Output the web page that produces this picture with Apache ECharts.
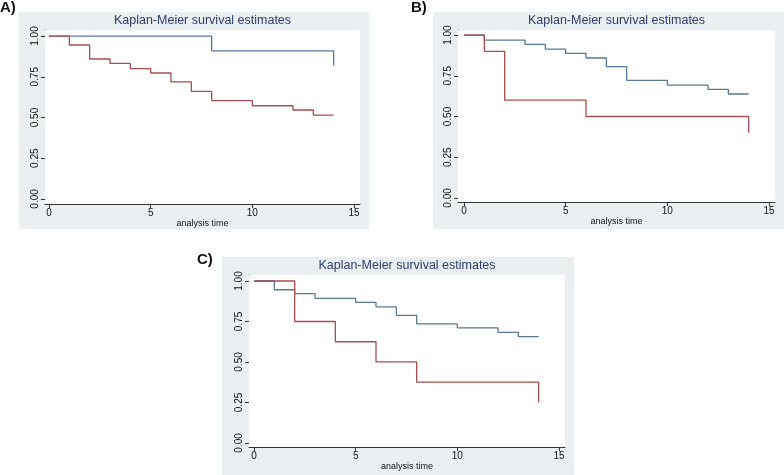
<!DOCTYPE html>
<html>
<head>
<meta charset="utf-8">
<title>Kaplan-Meier survival estimates</title>
<script src="https://cdn.jsdelivr.net/npm/echarts@6.0.0/dist/echarts.min.js"></script>
<style>
    html, body { margin: 0; padding: 0; background: #fff; }
    #chart { width: 784px; height: 475px; }
</style>
</head>
<body>
<div id="chart"></div>
<script>
    // panel A
    var timeA1 = [0, 8, 14];
    var survA1 = [1, 0.909, 0.818];
    var timeA2 = [0, 1, 2, 3, 4, 5, 6, 7, 8, 10, 12, 13, 14];
    var survA2 = [1, 0.945, 0.859, 0.832, 0.80, 0.773, 0.718, 0.66, 0.603, 0.572, 0.546, 0.515, 0.515];
    // panel B
    var timeB1 = [0, 1, 3, 4, 5, 6, 7, 8, 10, 12, 13, 14];
    var survB1 = [1, 0.969, 0.943, 0.914, 0.888, 0.859, 0.806, 0.722, 0.693, 0.667, 0.638, 0.638];
    var timeB2 = [0, 1, 2, 6, 14];
    var survB2 = [1, 0.9, 0.6, 0.5, 0.4];
    // panel C
    var timeC1 = [0, 1, 2, 3, 5, 6, 7, 8, 10, 12, 13, 14];
    var survC1 = [1, 0.946, 0.922, 0.893, 0.868, 0.84, 0.788, 0.735, 0.71, 0.683, 0.656, 0.656];
    var timeC2 = [0, 2, 4, 6, 8, 14];
    var survC2 = [1, 0.75, 0.625, 0.5, 0.375, 0.25];

    var xTicks = [0, 5, 10, 15];
    var yTicks = [0, 0.25, 0.5, 0.75, 1];
    var panelLabels = ['A)', 'B)', 'C)'];
    var titleText = 'Kaplan-Meier survival estimates';
    var xName = 'analysis time';

    var BLUE = '#5a7a98';
    var RED = '#a84e50';
    var BG = '#eaf0f2';
    var FONT = '"Liberation Sans", Arial, sans-serif';

    // layout of the three panels (pixels) and axis extents
    var panels = [
        { bg: [19, 12, 350, 217], left: 45, top: 30, right: 424, bottom: 271,
          xr: [-0.197, 15.295], yr: [-0.031, 1.037], label: [0, 8],
          lines: [[timeA1, survA1], [timeA2, survA2]] },
        { bg: [433, 12, 351, 217], left: 458, top: 30, right: 9, bottom: 273,
          xr: [-0.295, 15.295], yr: [-0.025, 1.031], label: [411, 8],
          lines: [[timeB1, survB1], [timeB2, survB2]] },
        { bg: [222, 257, 352, 218], left: 249, top: 275, right: 219, bottom: 28,
          xr: [-0.246, 15.295], yr: [-0.025, 1.037], label: [197, 260],
          lines: [[timeC1, survC1], [timeC2, survC2]] }
    ];

    function pairs(t, s) {
        return t.map(function (v, i) { return [v, s[i]]; });
    }

    var grids = [], xAxes = [], yAxes = [], series = [], titles = [], graphics = [];

    panels.forEach(function (p, i) {
        graphics.push({
            type: 'rect', z: -10,
            shape: { x: p.bg[0], y: p.bg[1], width: p.bg[2], height: p.bg[3] },
            style: { fill: BG }
        });
        graphics.push({
            type: 'text', x: p.label[0], y: p.label[1],
            style: { text: panelLabels[i], font: 'bold 15px ' + FONT, fill: '#111', verticalAlign: 'middle' }
        });

        var plotW = 784 - p.left - p.right;
        titles.push({
            text: titleText,
            left: p.left + plotW / 2,
            textAlign: 'center',
            top: p.top - 16,
            padding: 0,
            textStyle: { fontSize: 12.5, fontWeight: 'normal', color: '#2b3d6b', fontFamily: FONT }
        });

        grids.push({
            left: p.left, top: p.top, right: p.right, bottom: p.bottom,
            show: true, backgroundColor: '#fff', borderWidth: 0, z: 1,
            outerBoundsMode: 'none'
        });

        xAxes.push({
            gridIndex: i, type: 'value', min: p.xr[0], max: p.xr[1],
            axisLine: { show: true, onZero: false, lineStyle: { color: '#333', width: 1 } },
            axisTick: { show: true, length: 4, customValues: xTicks, lineStyle: { color: '#333' } },
            axisLabel: { customValues: xTicks, fontSize: 10, margin: 4, color: '#111', fontFamily: FONT },
            splitLine: { show: false },
            name: xName, nameLocation: 'middle', nameGap: 14,
            nameTextStyle: { fontSize: 9, color: '#111', fontFamily: FONT }
        });

        yAxes.push({
            gridIndex: i, type: 'value', min: p.yr[0], max: p.yr[1],
            axisLine: { show: true, onZero: false, lineStyle: { color: '#333', width: 1 } },
            axisTick: { show: true, length: 4, customValues: yTicks, lineStyle: { color: '#333' } },
            axisLabel: {
                customValues: yTicks, rotate: 90, fontSize: 10, margin: 5, color: '#111', fontFamily: FONT,
                formatter: function (v) { return v.toFixed(2); }
            },
            splitLine: { show: true, lineStyle: { color: '#dfe7eb', width: 1 } }
        });

        p.lines.forEach(function (ln, k) {
            series.push({
                type: 'line', step: 'end', xAxisIndex: i, yAxisIndex: i,
                data: pairs(ln[0], ln[1]),
                symbol: 'none', silent: true, z: 3 + k,
                lineStyle: { color: k === 0 ? BLUE : RED, width: 1.3 },
                itemStyle: { color: k === 0 ? BLUE : RED }
            });
        });
    });

    var chart = echarts.init(document.getElementById('chart'), null, { renderer: 'canvas' });
    chart.setOption({
        animation: false,
        backgroundColor: '#fff',
        title: titles,
        graphic: graphics,
        grid: grids,
        xAxis: xAxes,
        yAxis: yAxes,
        series: series
    });
</script>
</body>
</html>
